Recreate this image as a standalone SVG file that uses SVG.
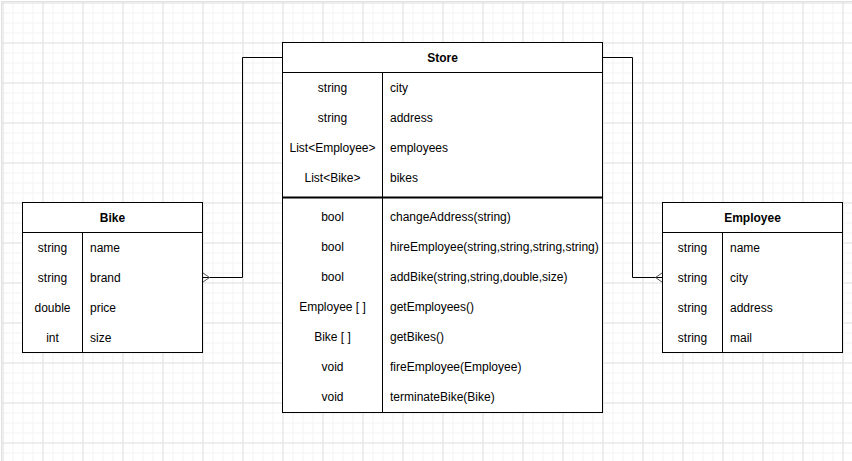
<svg xmlns="http://www.w3.org/2000/svg" width="852" height="461" viewBox="0 0 852 461">
<defs>
<pattern id="minor" x="2.5" y="2.5" width="10" height="10" patternUnits="userSpaceOnUse">
<path d="M0 0.5H10M0.5 0V10" stroke="#f3f3f3" stroke-width="1" fill="none"/>
</pattern>
<pattern id="major" x="2.5" y="2.5" width="40" height="40" patternUnits="userSpaceOnUse">
<path d="M0 0.5H40M0.5 0V40" stroke="#e2e2e2" stroke-width="1" fill="none"/>
</pattern>
</defs>
<style>
.box{fill:#ffffff;stroke:#000000;stroke-width:1}
.ln{stroke:#000000;stroke-width:1;fill:none}
.edge{stroke:#000000;stroke-width:1;fill:none}
.foot{stroke:#555555;stroke-width:1;fill:none}
text{font-family:"Liberation Sans",Arial,Helvetica,sans-serif;font-size:12px;fill:#000000}
.t{text-anchor:middle}
.h{font-weight:bold;text-anchor:middle}
</style>
<rect x="0" y="0" width="852" height="461" fill="#ffffff"/>
<rect x="2" y="2" width="850" height="459" fill="url(#minor)"/>
<rect x="2" y="2" width="850" height="459" fill="url(#major)"/>
<path d="M1.5 1.5V461M1.5 1.5H852" stroke="#e0e0e0" stroke-width="1" fill="none"/>

<g id="connectors">
<path class="edge" d="M282.5 57.5H242.5V277.5H203"/>
<path class="foot" d="M203 273L209.5 277.5L203 282"/>
<path class="edge" d="M602.5 57.5H632.5V277.5H662"/>
<path class="foot" d="M662 273L655.5 277.5L662 282"/>
</g>

<g id="store">
<rect class="box" x="282.5" y="42.5" width="320" height="370"/>
<path class="ln" d="M282.5 72.5H602.5M382.5 72.5V412.5"/>
<path d="M282.5 197.5H602.5" stroke="#000" stroke-width="2"/>
<text class="h" x="442.5" y="62">Store</text>
<text class="t" x="332.5" y="92">string</text><text x="390" y="92">city</text>
<text class="t" x="332.5" y="122">string</text><text x="390" y="122">address</text>
<text class="t" x="332.5" y="152">List&lt;Employee&gt;</text><text x="390" y="152">employees</text>
<text class="t" x="332.5" y="182">List&lt;Bike&gt;</text><text x="390" y="182">bikes</text>
<text class="t" x="332.5" y="221">bool</text><text x="390" y="221">changeAddress(string)</text>
<text class="t" x="332.5" y="251">bool</text><text x="390" y="251">hireEmployee(string,string,string,string)</text>
<text class="t" x="332.5" y="281">bool</text><text x="390" y="281">addBike(string,string,double,size)</text>
<text class="t" x="332.5" y="311">Employee [ ]</text><text x="390" y="311">getEmployees()</text>
<text class="t" x="332.5" y="341">Bike [ ]</text><text x="390" y="341">getBikes()</text>
<text class="t" x="332.5" y="371">void</text><text x="390" y="371">fireEmployee(Employee)</text>
<text class="t" x="332.5" y="401">void</text><text x="390" y="401">terminateBike(Bike)</text>
</g>

<g id="bike">
<rect class="box" x="22.5" y="202.5" width="180" height="150"/>
<path class="ln" d="M22.5 232.5H202.5M82.5 232.5V352.5"/>
<text class="h" x="112.5" y="222">Bike</text>
<text class="t" x="52.5" y="252">string</text><text x="90" y="252">name</text>
<text class="t" x="52.5" y="282">string</text><text x="90" y="282">brand</text>
<text class="t" x="52.5" y="312">double</text><text x="90" y="312">price</text>
<text class="t" x="52.5" y="342">int</text><text x="90" y="342">size</text>
</g>

<g id="employee">
<rect class="box" x="662.5" y="202.5" width="180" height="150"/>
<path class="ln" d="M662.5 232.5H842.5M722.5 232.5V352.5"/>
<text class="h" x="752.5" y="222">Employee</text>
<text class="t" x="692.5" y="252">string</text><text x="730" y="252">name</text>
<text class="t" x="692.5" y="282">string</text><text x="730" y="282">city</text>
<text class="t" x="692.5" y="312">string</text><text x="730" y="312">address</text>
<text class="t" x="692.5" y="342">string</text><text x="730" y="342">mail</text>
</g>
</svg>
